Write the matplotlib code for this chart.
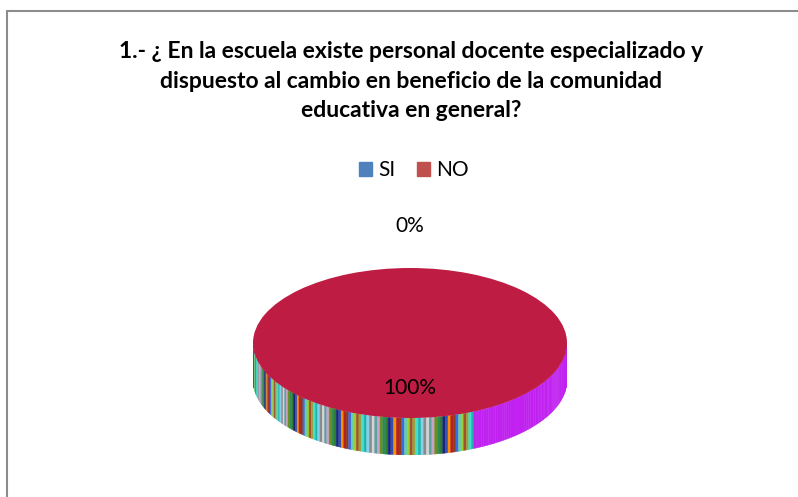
import numpy as np
import matplotlib.pyplot as plt
from matplotlib.patches import Polygon, Rectangle

# data
categories = ['SI', 'NO']
values = [0, 100]
pct_labels = ['0%', '100%']
legend_colors = ['#4F81BD', '#C0504D']
title = ('1.- ¿ En la escuela existe personal docente especializado y\n'
         'dispuesto al cambio en beneficio de la comunidad\n'
         'educativa en general?')

plt.rcParams['font.family'] = ['Lato', 'DejaVu Sans']

W, H = 798, 497
fig = plt.figure(figsize=(W / 100, H / 100), dpi=100)

# chart border (right / bottom edges run off the picture)
fig.patches.append(Rectangle((7 / W, -0.1), 1.2, (H - 11) / H + 0.1,
                             transform=fig.transFigure, fill=False,
                             edgecolor='#8c8c8c', linewidth=1.5))

fig.text(411 / W, 1 - 81 / H, title, ha='center', va='center',
         fontsize=16.5, fontweight='bold', linespacing=1.48)

# legend
handles = [plt.Rectangle((0, 0), 1, 1, color=c) for c in legend_colors]
fig.legend(handles, categories, loc='center', bbox_to_anchor=(414 / W, 1 - 170 / H),
           ncol=2, frameon=False, fontsize=15, handlelength=0.65, handleheight=0.65,
           handletextpad=0.3, columnspacing=1.0)

# pie axes: horizontal radius 157 px, vertical 75 px, thickness 37 px
cx, rx, top, ry, thick = 410, 157, 268, 75, 37
t = thick / ry
ax = fig.add_axes([(cx - rx) / W, (H - (top + 2 * ry + thick)) / H,
                   2 * rx / W, (2 * ry + thick) / H])
ax.axis('off')

# side of the 3D disc: striped left part, magenta right part
stripe_cols = ['#2e8b57', '#3050b0', '#8b3a1a', '#9acd32', '#40e0d0', '#8a8a8a',
               '#c8a2c8', '#2f7d2f', '#ff8c00', '#4169e1', '#a0522d', '#20b2aa',
               '#d3d3d3', '#6b8e23', '#1a237e', '#b22222', '#66cdaa', '#9aa040',
               '#87ceeb', '#5f9ea0']
angs = np.linspace(np.pi, 2 * np.pi, 181)
split = 2 * np.pi - np.arccos(0.40)
for i in range(len(angs) - 1):
    a1, a2 = angs[i], angs[i + 1]
    col = '#c020f0' if a1 >= split else stripe_cols[(i * 7) % len(stripe_cols)]
    pts = [(np.cos(a1), np.sin(a1)), (np.cos(a2), np.sin(a2)),
           (np.cos(a2), np.sin(a2) - t), (np.cos(a1), np.sin(a1) - t)]
    ax.add_patch(Polygon(pts, closed=True, facecolor=col, edgecolor=col, linewidth=0.3))

# top face
ax.pie(values, colors=['#4F81BD', '#BE1C42'], startangle=90, radius=1,
       center=(0, 0), wedgeprops=dict(linewidth=0), frame=False)
ax.set_aspect('auto')
ax.set_xlim(-1, 1)
ax.set_ylim(-1 - t, 1)

# data labels
fig.text(410 / W, 1 - 226 / H, pct_labels[0], ha='center', va='center', fontsize=15)
ax.text(0, -0.6, pct_labels[1], ha='center', va='center', fontsize=15)

fig.savefig('out.png', dpi=100)
